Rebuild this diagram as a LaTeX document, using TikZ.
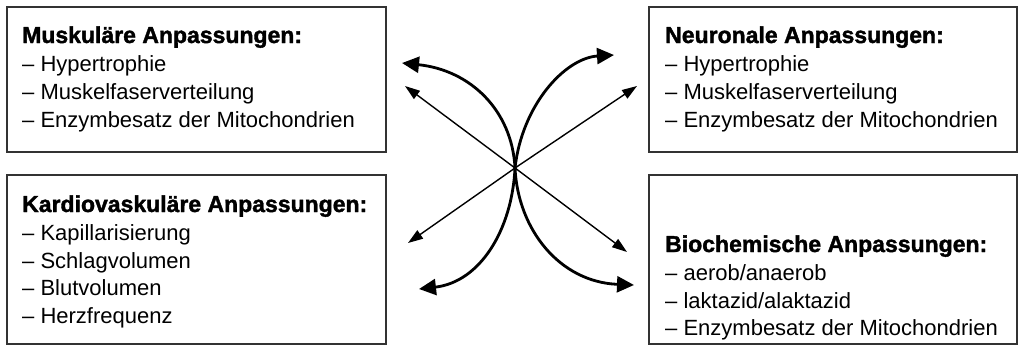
\documentclass[tikz,border=0pt]{standalone}
\usepackage{fontspec}
\setmainfont{Liberation Sans}
\newfontfamily\heavyfont[FakeBold=1.6]{Liberation Sans Bold}
\usetikzlibrary{arrows.meta}
\begin{document}
\begin{tikzpicture}[x=1pt,y=-1pt,
  box/.style={draw=black!80,line width=1.3pt},
  head/.style={anchor=base west,inner sep=0pt,font=\fontsize{23}{28}\heavyfont},
  item/.style={anchor=base west,inner sep=0pt,font=\fontsize{22}{28}\selectfont},
  straight/.style={line width=1.4pt,-{Triangle[length=15pt,width=10pt]}},
  curved/.style={line width=2.8pt,-{Triangle[length=17pt,width=16pt]}}]
\useasboundingbox (0,0) rectangle (1019,346);
% boxes
\draw[box] (7,7) rectangle (386,152);
\draw[box] (7,175) rectangle (386,344);
\draw[box] (649,7) rectangle (1017,152);
\draw[box] (649,175) rectangle (1017,344);
% top-left
\node[head] (tl0) at (22,43) {Muskuläre Anpassungen:};
\node[item] (tl1) at (22,71) {– Hypertrophie};
\node[item] (tl2) at (22,99) {– Muskelfaserverteilung};
\node[item] (tl3) at (22,127) {– Enzymbesatz der Mitochondrien};
% top-right
\node[head] (tr0) at (665,43) {Neuronale Anpassungen:};
\node[item] (tr1) at (665,71) {– Hypertrophie};
\node[item] (tr2) at (665,99) {– Muskelfaserverteilung};
\node[item] (tr3) at (665,127) {– Enzymbesatz der Mitochondrien};
% bottom-left
\node[head] (bl0) at (22,212) {Kardiovaskuläre Anpassungen:};
\node[item] (bl1) at (22,240) {– Kapillarisierung};
\node[item] (bl2) at (22,268) {– Schlagvolumen};
\node[item] (bl3) at (22,295) {– Blutvolumen};
\node[item] (bl4) at (22,323) {– Herzfrequenz};
% bottom-right
\node[head] (br0) at (665,252) {Biochemische Anpassungen:};
\node[item] (br1) at (665,280) {– aerob/anaerob};
\node[item] (br2) at (665,308) {– laktazid/alaktazid};
\node[item] (br3) at (665,335) {– Enzymbesatz der Mitochondrien};
% arrows
\coordinate (c) at (515,168);
\coordinate (sul) at (405,86);
\coordinate (sur) at (637,86);
\coordinate (sll) at (408,243);
\coordinate (slr) at (627,252);
\coordinate (cul) at (402,63);
\coordinate (cur) at (614,55);
\coordinate (cll) at (419,289);
\coordinate (clr) at (634,285);
\draw[straight] (c) -- (sul);
\draw[straight] (c) -- (sur);
\draw[straight] (c) -- (sll);
\draw[straight] (c) -- (slr);
\draw[curved] (c) .. controls (512,110) and (470,70) .. (cul);
\draw[curved] (c) .. controls (522,105) and (565,58) .. (cur);
\draw[curved] (c) .. controls (512,230) and (480,282) .. (cll);
\draw[curved] (c) .. controls (518,230) and (560,282) .. (clr);
\end{tikzpicture}
\end{document}
